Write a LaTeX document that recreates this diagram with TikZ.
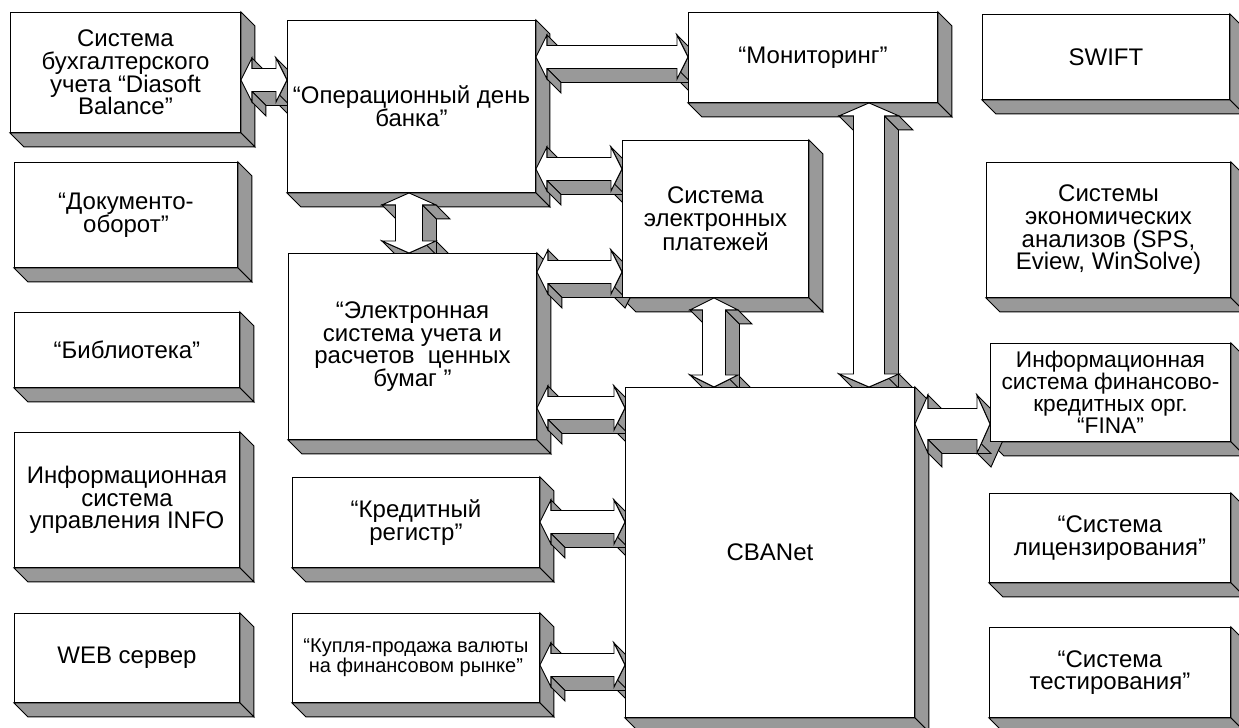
\documentclass[tikz,border=0pt]{standalone}
\usepackage{fontspec}
\setmainfont{Liberation Sans}
\usetikzlibrary{calc}
\definecolor{shade}{RGB}{153,153,153}
\pgfdeclarelayer{behind}
\pgfsetlayers{behind,main}
\tikzset{
	block/.style={draw, fill=white, align=center, anchor=north west, inner sep=2pt, line width=0.7pt, font=\fontsize{18}{17}\selectfont},
	sz/.style 2 args={minimum width=#1*0.75pt, minimum height=#2*0.75pt},
	sidefill/.style={draw, fill=shade, line width=0.7pt},
	frontfill/.style={draw, fill=white, line width=0.7pt},
}
% extruded face of a double block arrow, points p1..p10
\newcommand\arrowsolid{%
	\foreach \i/\j in {2/3,5/6,6/7,8/9,9/10}
		\filldraw[sidefill] (p\i) -- (p\j) -- ($(p\j)+(14,14)$) -- ($(p\i)+(14,14)$) -- cycle;
	\filldraw[frontfill] (p1) \foreach \i in {2,...,10}{ -- (p\i)} -- cycle;
}
% horizontal link: left end, right end, shaft, head, head length
\newcommand\hlink[5]{%
	\coordinate (p1) at #1; \coordinate (p6) at #2;
	\coordinate (p2) at ($(p1)+(#5,-#4)$);
	\coordinate (p3) at ($(p1)+(#5,-#3)$);
	\coordinate (p4) at ($(p6)+(-#5,-#3)$);
	\coordinate (p5) at ($(p6)+(-#5,-#4)$);
	\coordinate (p7) at ($(p6)+(-#5,#4)$);
	\coordinate (p8) at ($(p6)+(-#5,#3)$);
	\coordinate (p9) at ($(p1)+(#5,#3)$);
	\coordinate (p10) at ($(p1)+(#5,#4)$);
	\arrowsolid
}
% vertical link: top end, bottom end, shaft, head, head length
\newcommand\vlink[5]{%
	\coordinate (p1) at #1; \coordinate (p6) at #2;
	\coordinate (p2) at ($(p1)+(-#4,#5)$);
	\coordinate (p3) at ($(p1)+(-#3,#5)$);
	\coordinate (p4) at ($(p6)+(-#3,-#5)$);
	\coordinate (p5) at ($(p6)+(-#4,-#5)$);
	\coordinate (p7) at ($(p6)+(#4,-#5)$);
	\coordinate (p8) at ($(p6)+(#3,-#5)$);
	\coordinate (p9) at ($(p1)+(#3,#5)$);
	\coordinate (p10) at ($(p1)+(#4,#5)$);
	\arrowsolid
}
\begin{document}
\begin{tikzpicture}[x=0.75pt, y=-0.75pt]
	\useasboundingbox (0,0) rectangle (1239,728);
	% left column
	\node[block, sz={230}{120}] (dia) at (10,12) {Система\\бухгалтерского\\учета “Diasoft\\Balance”};
	\node[block, sz={223}{105}] (doc) at (14,162) {“Документо-\\оборот”};
	\node[block, sz={225}{75}] (lib) at (14,312) {“Библиотека”};
	\node[block, sz={225}{135}] (info) at (14,432) {Информационная\\система\\управления INFO};
	\node[block, sz={225}{89}] (web) at (14,613) {WEB сервер};
	% middle column
	\node[block, sz={248}{172}] (odb) at (287,20) {“Операционный день\\банка”};
	\node[block, sz={248}{186}] (esu) at (288,253) {“Электронная\\система учета и\\расчетов~ ценных\\бумаг ”};
	\node[block, sz={247}{90}] (kred) at (292,477) {“Кредитный\\регистр”};
	\node[block, sz={247}{89}, font=\fontsize{15}{13.5}\selectfont] (kup) at (292,613) {“Купля-продажа валюты\\на финансовом рынке”};
	% center
	\node[block, sz={249}{90}] (mon) at (688,12) {“Мониторинг”};
	\node[block, sz={186}{157}] (sep) at (622,140) {Система\\электронных\\платежей};
	\node[block, sz={289}{330}] (cba) at (625,387) {CBANet};
	% right column
	\node[block, sz={247}{85}] (swift) at (982,14) {SWIFT};
	\node[block, sz={244}{135}] (econ) at (986,162) {Системы\\экономических\\анализов (SPS,\\Eview, WinSolve)};
	\node[block, sz={240}{98}, font=\fontsize{17}{16.5}\selectfont] (fina) at (990,343) {Информационная\\система финансово-\\кредитных орг.\\“FINA”};
	\node[block, sz={241}{89}] (lic) at (989,493) {“Система\\лицензирования”};
	\node[block, sz={241}{90}] (test) at (989,627) {“Система\\тестирования”};

	\begin{pgfonlayer}{behind}
		% box depth
		\foreach \n in {dia,doc,lib,info,web,odb,esu,kred,kup,mon,sep,cba,swift,econ,fina,lic,test}{
			\filldraw[sidefill] (\n.north east) -- ++(14,14) -- ($(\n.south east)+(14,14)$) -- (\n.south east) -- cycle;
			\filldraw[sidefill] (\n.south west) -- ++(14,14) -- ($(\n.south east)+(14,14)$) -- (\n.south east) -- cycle;
		}
		% links
		\hlink{(dia.east |- 0,80)}{(odb.west |- 0,80)}{11.5}{22}{11}
		\hlink{(odb.east |- 0,57)}{(mon.west |- 0,57)}{11.5}{22}{11}
		\hlink{(odb.east |- 0,169)}{(sep.west |- 0,169)}{11.5}{22}{11}
		\hlink{(esu.east |- 0,272)}{(sep.west |- 0,272)}{11.5}{22}{11}
		\hlink{(esu.east |- 0,408)}{(cba.west |- 0,408)}{11.5}{22}{11}
		\hlink{(kred.east |- 0,522)}{(cba.west |- 0,522)}{11.5}{22}{11}
		\hlink{(kup.east |- 0,665)}{(cba.west |- 0,665)}{11.5}{22}{11}
		\hlink{(cba.east |- 0,424)}{(fina.west |- 0,424)}{15.5}{29}{13}
		\vlink{(409,0 |- odb.south)}{(409,0 |- esu.north)}{13.5}{27}{12}
		\vlink{(714,0 |- sep.south)}{(714,0 |- cba.north)}{11.5}{24}{12}
		\vlink{(869,0 |- mon.south)}{(869,0 |- cba.north)}{15.5}{30}{13}
	\end{pgfonlayer}
\end{tikzpicture}
\end{document}
